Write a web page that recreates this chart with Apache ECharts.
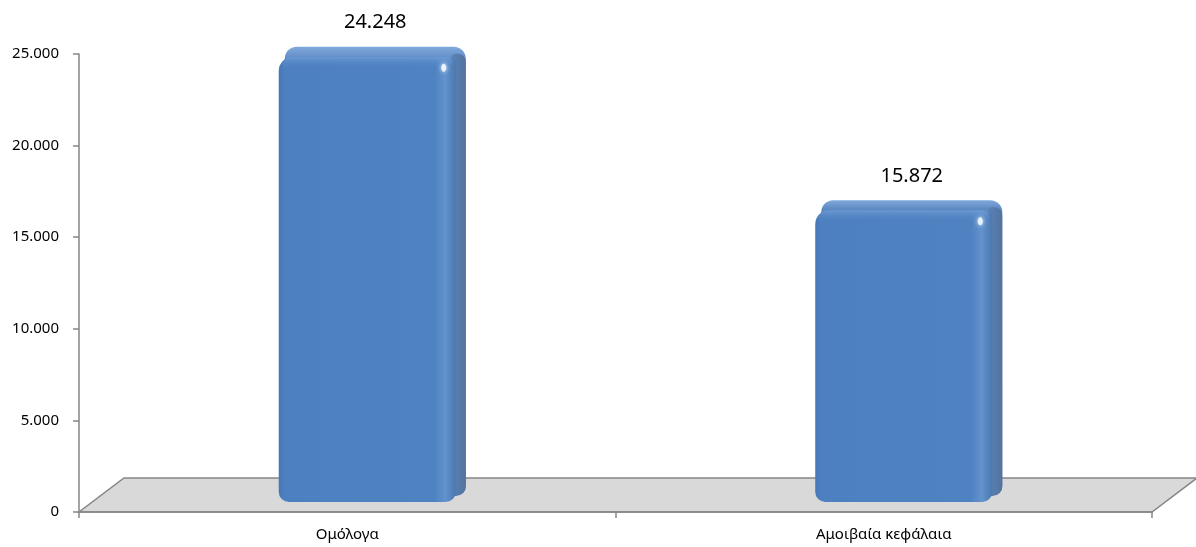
<!DOCTYPE html>
<html>
<head>
<meta charset="utf-8">
<script src="https://cdn.jsdelivr.net/npm/echarts@6/dist/echarts.min.js"></script>
<style>
    html, body { margin: 0; padding: 0; background: #fff; }
    #main { width: 1196px; height: 547px; }
</style>
</head>
<body>
<div id="main"></div>
<script>
(function () {
    'use strict';

    var categories = ['Ομόλογα', 'Αμοιβαία κεφάλαια'];
    var values = [24248, 15872];
    var yTicks = [0, 5000, 10000, 15000, 20000, 25000];

    var FONT = '"Noto Sans", "Open Sans", sans-serif';
    var AXIS_COLOR = '#868686';

    // 24248 -> "24.248"
    function fmt(v) {
        return String(Math.round(v)).replace(/\B(?=(\d{3})+(?!\d))/g, '.');
    }

    // gray floor of the 3d plot, drawn from the grid rect
    function renderFloor(params, api) {
        var cs = params.coordSys;
        var bx = cs.x, by = cs.y + cs.height, r = cs.x + cs.width;
        var ddx = 45, ddy = 34;
        return {
            type: 'polygon',
            shape: {
                points: [[bx, by], [r, by], [r + ddx, by - ddy], [bx + ddx, by - ddy]]
            },
            style: { fill: '#d9d9d9', stroke: AXIS_COLOR, lineWidth: 1.5 },
            silent: true
        };
    }

    function renderBar(params, api) {
        var idx = api.value(0);
        var val = api.value(1);
        var top = api.coord([idx, val]);
        var base = api.coord([idx, 0]);
        var band = api.size([1, 0])[0];
        var w = band * 0.33;
        var x0 = top[0] - w / 2 + 20;
        var yTop = top[1] - 11;
        var yBot = base[1] - 10;
        var h = yBot - yTop;
        var depth = 10;

        return {
            type: 'group',
            children: [
                // side / back block
                {
                    type: 'rect',
                    shape: { x: x0 + 6, y: yTop - depth, width: w + depth - 6, height: h + depth - 6, r: [12, 12, 10, 6] },
                    style: {
                        fill: new echarts.graphic.LinearGradient(0, 0, 0, 1, [
                            { offset: 0, color: '#80a9dc' },
                            { offset: 0.03, color: '#5d89c2' },
                            { offset: 1, color: '#4c72a3' }
                        ])
                    }
                },
                // right side darker
                {
                    type: 'rect',
                    shape: { x: x0 + w - 4, y: yTop - 3, width: depth + 4, height: h - 4, r: [4, 8, 8, 4] },
                    style: {
                        fill: new echarts.graphic.LinearGradient(0, 0, 1, 0, [
                            { offset: 0, color: '#5b82b5' },
                            { offset: 1, color: '#5273a0' }
                        ])
                    }
                },
                // front face
                {
                    type: 'rect',
                    shape: { x: x0, y: yTop, width: w, height: h, r: [14, 8, 10, 10] },
                    style: {
                        fill: new echarts.graphic.LinearGradient(0, 0, 1, 0, [
                            { offset: 0, color: '#4677b4' },
                            { offset: 0.03, color: '#4d80c0' },
                            { offset: 0.88, color: '#4f82c1' },
                            { offset: 0.94, color: '#6393cd' },
                            { offset: 1, color: '#4a78b0' }
                        ])
                    }
                },
                // top cap shine
                {
                    type: 'rect',
                    shape: { x: x0 + 3, y: yTop, width: w - 6, height: 12, r: [10, 6, 0, 0] },
                    style: {
                        fill: new echarts.graphic.LinearGradient(0, 0, 0, 1, [
                            { offset: 0, color: 'rgba(110,155,212,0.9)' },
                            { offset: 1, color: 'rgba(79,130,193,0)' }
                        ])
                    }
                },
                // highlight spot
                {
                    type: 'ellipse',
                    shape: { cx: x0 + w - 12, cy: yTop + 11, rx: 2.5, ry: 4 },
                    style: { fill: 'rgba(235,245,255,0.95)', shadowBlur: 4, shadowColor: 'rgba(255,255,255,0.9)' }
                },
                // value label
                {
                    type: 'text',
                    style: {
                        text: fmt(val),
                        x: x0 + w / 2 + 8,
                        y: yTop - 34,
                        align: 'center',
                        verticalAlign: 'middle',
                        fill: '#000',
                        font: '20px ' + FONT
                    }
                }
            ]
        };
    }

    var chart = echarts.init(document.getElementById('main'));

    chart.setOption({
        animation: false,
        backgroundColor: '#fff',
        grid: { left: 79, right: 44, top: 54, bottom: 35, containLabel: false },
        xAxis: {
            type: 'category',
            data: categories,
            boundaryGap: true,
            axisLine: { show: true, lineStyle: { color: AXIS_COLOR, width: 1.5 } },
            axisTick: { show: true, length: 6, alignWithLabel: false, lineStyle: { color: AXIS_COLOR, width: 1.5 } },
            axisLabel: { color: '#000', fontSize: 15, fontFamily: FONT, margin: 15 },
            splitLine: { show: false },
            z: 5
        },
        yAxis: {
            type: 'value',
            min: yTicks[0],
            max: yTicks[yTicks.length - 1],
            interval: yTicks[1] - yTicks[0],
            axisLine: { show: true, lineStyle: { color: AXIS_COLOR, width: 1.5 } },
            axisTick: { show: true, length: 6, lineStyle: { color: AXIS_COLOR, width: 1.5 } },
            axisLabel: {
                color: '#000', fontSize: 15, fontFamily: FONT, margin: 20,
                formatter: function (v) { return fmt(v); }
            },
            splitLine: { show: false }
        },
        series: [
            {
                type: 'custom',
                renderItem: renderFloor,
                data: [[0, 0]],
                z: 1,
                silent: true
            },
            {
                type: 'custom',
                renderItem: renderBar,
                encode: { x: 0, y: 1 },
                data: values.map(function (v, i) { return [i, v]; }),
                z: 3
            }
        ]
    });
})();
</script>
</body>
</html>
